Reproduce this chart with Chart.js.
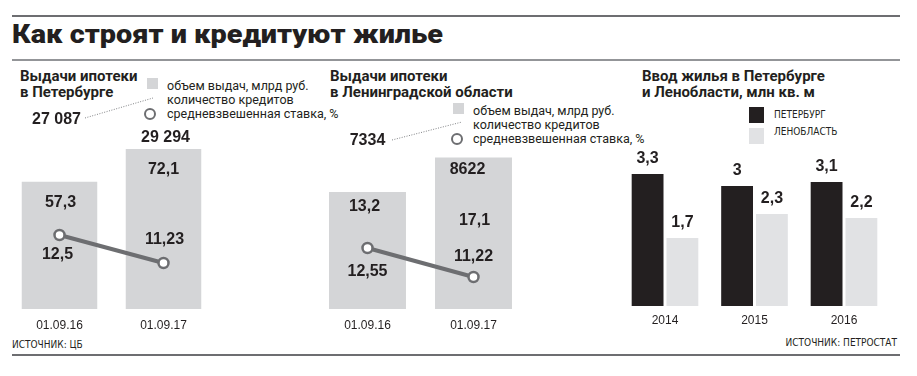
<!DOCTYPE html>
<html><head><meta charset="utf-8">
<script src="https://cdn.jsdelivr.net/npm/chart.js@4"></script>
<style>
html,body{margin:0;padding:0;background:#fff;}
body{width:917px;height:376px;position:relative;overflow:hidden;font-family:Roboto,'Open Sans',sans-serif;color:#231f20;}
canvas{position:absolute;left:0;top:0;}
.t{position:absolute;white-space:nowrap;}
.rule{position:absolute;left:12px;width:888px;}
.ptitle{font:700 15px/16px Roboto,sans-serif;}
.leg{font:400 12.5px/14px Roboto,sans-serif;}
.narrow{font-family:'Liberation Sans Narrow','DejaVu Sans Condensed',sans-serif;font-stretch:condensed;font-size:10px;line-height:12px;}
.sq{position:absolute;}
.circ{position:absolute;width:8px;height:8px;border:2.5px solid #6d6e71;border-radius:50%;background:#fff;}
</style></head><body>
<div class="rule" style="top:15px;height:2px;background:#6d6e71"></div>
<div class="t" id="title" style="left:12px;top:19px;font:900 26px/30px Roboto,sans-serif;transform-origin:0 0;">Как строят и кредитуют жилье</div>
<div class="rule" style="top:59px;height:2px;background:#939598"></div>
<div class="rule" style="top:354px;height:2px;background:#6d6e71"></div>

<!-- panel 1 header -->
<div class="t ptitle" style="left:20px;top:68px;">Выдачи ипотеки<br>в Петербурге</div>
<div class="sq" style="left:147px;top:78px;width:11px;height:11px;background:#d4d5d7"></div>
<div class="circ" style="left:143.5px;top:107.5px;"></div>
<div class="t leg" style="left:167px;top:79px;">объем выдач, млрд руб.<br>количество кредитов<br>средневзвешенная ставка, %</div>
<div class="t narrow" style="left:12px;top:339px;">ИСТОЧНИК: ЦБ</div>

<!-- panel 2 header -->
<div class="t ptitle" style="left:330px;top:68px;">Выдачи ипотеки<br>в Ленинградской области</div>
<div class="sq" style="left:453px;top:103px;width:11px;height:11px;background:#d4d5d7"></div>
<div class="circ" style="left:450.5px;top:132.5px;"></div>
<div class="t leg" style="left:473px;top:104px;">объем выдач, млрд руб.<br>количество кредитов<br>средневзвешенная ставка, %</div>

<!-- panel 3 header -->
<div class="t ptitle" style="left:642px;top:68px;">Ввод жилья в Петербурге<br>и Ленобласти, млн кв. м</div>
<div class="sq" style="left:749px;top:107px;width:15px;height:16px;background:#231f20"></div>
<div class="sq" style="left:749px;top:128px;width:15px;height:16px;background:#e1e2e4"></div>
<div class="t narrow" style="left:774px;top:109px;">ПЕТЕРБУРГ</div>
<div class="t narrow" style="left:774px;top:126px;">ЛЕНОБЛАСТЬ</div>
<div class="t narrow" style="right:20px;top:337px;">ИСТОЧНИК: ПЕТРОСТАТ</div>

<svg style="position:absolute;left:0;top:0" width="917" height="376">
  <line x1="85" y1="118" x2="153" y2="98" stroke="#808285" stroke-width="1" stroke-dasharray="1 1.5"/>
  <line x1="392" y1="140" x2="462" y2="122" stroke="#808285" stroke-width="1" stroke-dasharray="1 1.5"/>
</svg>

<canvas id="c1" width="917" height="376"></canvas>
<canvas id="c2" width="917" height="376"></canvas>
<canvas id="c3" width="917" height="376"></canvas>

<script>
// ---- data ----
const spbDates = ['01.09.16', '01.09.17'];
const spbVolume = [57.3, 72.1];        // млрд руб.
const spbCount = [27087, 29294];       // количество кредитов
const spbRate = [12.5, 11.23];         // %

const loDates = ['01.09.16', '01.09.17'];
const loVolume = [13.2, 17.1];
const loCount = [7334, 8622];
const loRate = [12.55, 11.22];

const years = ['2014', '2015', '2016'];
const housingSpb = [3.3, 3, 3.1];
const housingLo = [1.7, 2.3, 2.2];
// ---------------

const INK = '#231f20';
const fmtDec = v => String(v).replace('.', ',');
const fmtInt = v => v >= 10000 ? String(v).replace(/\B(?=(\d{3})+(?!\d))/g, '\u00a0') : String(v);

const valueLabels = {
  id: 'valueLabels',
  afterDatasetsDraw(chart, args, opts) {
    const ctx = chart.ctx;
    ctx.save();
    ctx.font = 'bold 16px "Liberation Sans", Arial, sans-serif';
    ctx.fillStyle = INK;
    ctx.textAlign = 'center';
    ctx.textBaseline = 'middle';
    (opts.items || []).forEach(it => {
      const el = chart.getDatasetMeta(it.ds).data[it.i];
      ctx.fillText(it.fmt(it.values[it.i]), el.x + (it.dx || 0), el.y + it.dy);
    });
    ctx.restore();
  }
};

const tickFont = { family: '"Liberation Sans", Arial, sans-serif', size: 12 };

function mortgageChart(id, labels, volume, count, rate, pad, yMax, rMin, rMax, lab) {
  return new Chart(document.getElementById(id), {
    type: 'bar',
    data: {
      labels,
      datasets: [
        { type: 'bar', data: volume, backgroundColor: '#d4d5d7', yAxisID: 'y', order: 2,
          categoryPercentage: 1, barPercentage: 0.726 },
        { type: 'line', data: rate, yAxisID: 'y1', order: 1, borderColor: '#6d6e71', borderWidth: 4,
          pointRadius: 5, pointBorderWidth: 2.5, pointBackgroundColor: '#fff', pointBorderColor: '#6d6e71' }
      ]
    },
    options: {
      responsive: false, animation: false, devicePixelRatio: 1,
      layout: { padding: pad },
      plugins: {
        legend: { display: false }, tooltip: { enabled: false },
        valueLabels: { items: [
          { ds: 0, i: 0, values: volume, fmt: fmtDec, dy: lab.v0, dx: lab.v0x || 0 },
          { ds: 0, i: 1, values: volume, fmt: fmtDec, dy: lab.v1, dx: lab.v1x || 0 },
          { ds: 0, i: 0, values: count, fmt: fmtInt, dy: lab.c0, dx: lab.c0x || 0 },
          { ds: 0, i: 1, values: count, fmt: fmtInt, dy: lab.c1, dx: lab.c1x || 0 },
          { ds: 1, i: 0, values: rate, fmt: fmtDec, dy: lab.r0, dx: lab.r0x || 0 },
          { ds: 1, i: 1, values: rate, fmt: fmtDec, dy: lab.r1, dx: lab.r1x || 0 }
        ] }
      },
      scales: {
        x: { grid: { display: false, drawTicks: false }, border: { display: false },
             ticks: { padding: 9, color: INK, font: tickFont },
             afterFit: s => { s.height = 30; } },
        y: { display: false, min: 0, max: yMax },
        y1: { display: false, min: rMin, max: rMax }
      }
    },
    plugins: [valueLabels]
  });
}

mortgageChart('c1', spbDates, spbVolume, spbCount, spbRate,
  { left: 3.5, right: 701.5, top: 100, bottom: 37 }, 94.2, 9.144, 18.62,
  { v0: 21, v0x: 1, v1: 21, c0: -62, c0x: -3, c1: -11, c1x: 2, r0: 20, r0x: -2, r1: -23, r1x: 1 });

mortgageChart('c2', loDates, loVolume, loCount, loRate,
  { left: 314.5, right: 390.5, top: 100, bottom: 37 }, 23.59, 9.752, 19.34,
  { v0: 15, v0x: -3, v1: 63, v1x: 1, c0: -51.5, c1: 12, c1x: -6, r0: 24, r0x: 0, r1: -20, r1x: 0 });

new Chart(document.getElementById('c3'), {
  type: 'bar',
  data: {
    labels: years,
    datasets: [
      { data: housingSpb, backgroundColor: INK },
      { data: housingLo, backgroundColor: '#e1e2e4' }
    ]
  },
  options: {
    responsive: false, animation: false, devicePixelRatio: 1,
    layout: { padding: { left: 620.25, right: 28.25, top: 100, bottom: 40 } },
    datasets: { bar: { categoryPercentage: 0.778, barPercentage: 0.914 } },
    plugins: {
      legend: { display: false }, tooltip: { enabled: false },
      valueLabels: { items: [0, 1, 2].flatMap(i => [
        { ds: 0, i, values: housingSpb, fmt: fmtDec, dy: -15 },
        { ds: 1, i, values: housingLo, fmt: fmtDec, dy: -15 }
      ]) }
    },
    scales: {
      x: { grid: { display: false, drawTicks: false }, border: { display: false },
           ticks: { padding: 7, color: INK, font: tickFont },
           afterFit: s => { s.height = 30; } },
      y: { display: false, min: 0, max: 5.15 }
    }
  },
  plugins: [valueLabels]
});

// fit main title width to the reference
const t = document.getElementById('title');
const w = t.getBoundingClientRect().width;
t.style.transform = 'scaleX(' + (431 / w) + ')';
</script>
</body></html>
